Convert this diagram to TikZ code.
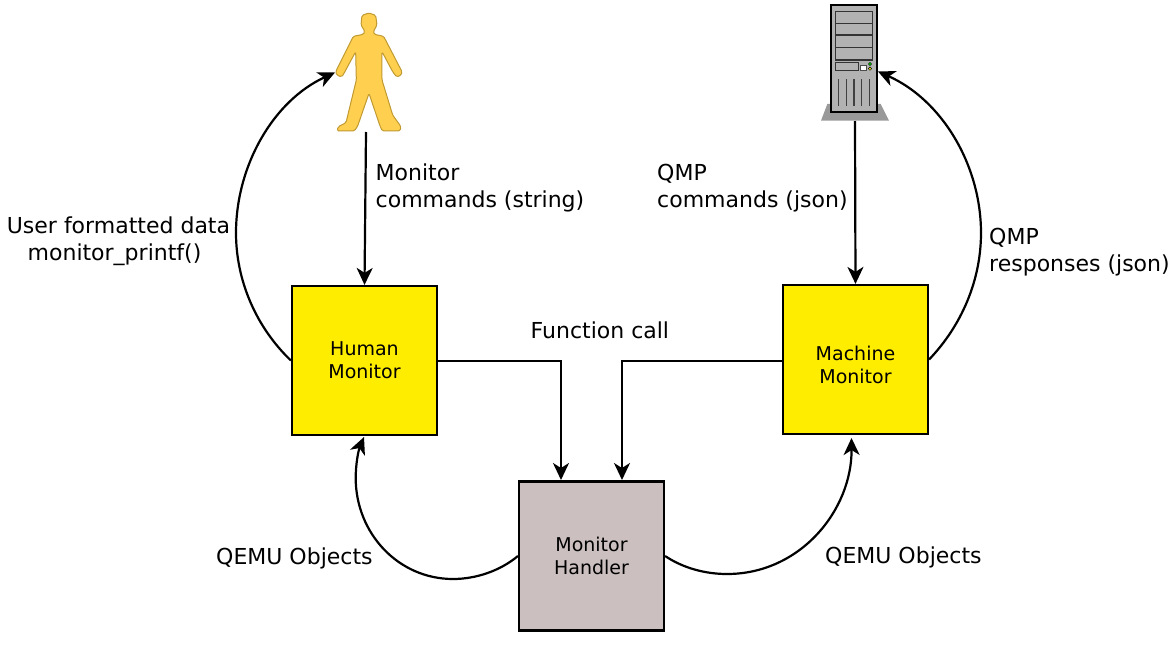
\documentclass[tikz,border=0pt]{standalone}
\usepackage{fontspec}
\setmainfont{DejaVu Sans}
\usetikzlibrary{arrows.meta}
\newcommand{\lowerlabel}[2]{\raisebox{-#1}[\height][\depth]{#2}}
\tikzset{
  x=1pt,y=-1pt,
  boxnode/.style={draw=black,line width=2.2pt,minimum width=145pt,minimum height=149pt,inner sep=0pt,align=center,font=\fontsize{19}{23}\selectfont},
  yellowbox/.style={boxnode,fill=ymon},
  greybox/.style={boxnode,fill=handlerc},
  label/.style={anchor=west,align=left,inner sep=0pt,font=\fontsize{22}{27}\selectfont},
  conn/.style={line width=2.2pt,-{Stealth[length=17pt,width=16pt,inset=5pt]}},
}
\definecolor{ymon}{HTML}{FFED00}
\definecolor{handlerc}{HTML}{CBBFBF}
\definecolor{persc}{HTML}{FFD050}
\definecolor{persl}{HTML}{C09A30}
\begin{document}
\begin{tikzpicture}
\useasboundingbox (0,0) rectangle (1171,648);
% person
\begin{scope}[shift={(320,0)},x=0.3333pt,y=-0.3333pt]
\draw[fill=persc,draw=persl,line width=1pt,line join=round,rounded corners=1.5pt]
 (123,75)--(126,46)--(147,39)--(167,46)--(171,75)--(160,95)--(163,103)--(191,109)--(246,215)--(244,225)--(230,231)--(218,215)--(186,155)--(186,240)--(218,345)--(243,380)--(240,393)--(187,393)--(180,378)--(147,280)--(113,378)--(103,393)--(51,393)--(55,380)--(78,368)--(109,240)--(107,155)--(72,220)--(65,231)--(50,225)--(47,215)--(100,109)--(130,103)--(135,95)--cycle;
\end{scope}
% server
\begin{scope}[shift={(810,0)},x=0.3333pt,y=-0.3333pt]
\fill[fill=black!40] (52,312)--(212,312)--(237,362)--(33,362)--cycle;
\draw[fill=black!30,draw=black,line width=2.2pt] (62,14) rectangle (202,335);
\draw[draw=black!80,line width=1.3pt] (76,34) rectangle (188,180);
\draw[draw=black!80,line width=1.3pt] (76,70)--(188,70) (76,105)--(188,105) (76,142)--(188,142);
\draw[draw=black!80,line width=1.3pt] (76,187) rectangle (146,212);
\draw[fill=white,draw=black!70,line width=0.7pt] (151,197) rectangle (170,212);
\draw[fill=green!80!black,draw=black,line width=0.4pt] (180,192) circle (5);
\draw[fill=yellow!90!black,draw=black,line width=0.4pt] (180,206) circle (5);
\draw[draw=black!75,line width=1.2pt] (85,238)--(85,318) (109,238)--(109,318) (132,238)--(132,318) (155,238)--(155,318) (178,238)--(178,318);
\end{scope}
% boxes
\node[yellowbox] (human) at (364.5,360.5) {\lowerlabel{0pt}{Human}\\\lowerlabel{0pt}{Monitor}};
\node[yellowbox] (machine) at (855.5,359.5) {\lowerlabel{5pt}{Machine}\\\lowerlabel{5pt}{Monitor}};
\node[greybox] (handler) at (591.5,556) {Monitor\\Handler};
% free ends
\coordinate (personfoot) at (366,132);
\coordinate (personhand) at (335,72.5);
\coordinate (serverbase) at (855,121);
\coordinate (serverside) at (878,71.5);
\coordinate (handlerinl) at (561,480);
\coordinate (handlerinr) at (622,480);
\coordinate (humanbot) at (364,437);
\coordinate (machinebot) at (851.5,438);
% connectors
\draw[conn] (personfoot) -- (human.north);
\draw[conn] (serverbase) -- (machine.north);
\draw[conn] ([yshift=-0.5pt]human.east) -| (handlerinl);
\draw[conn] ([yshift=-1.5pt]machine.west) -| (handlerinr);
\draw[conn] (human.west) .. controls (256.4,327.5) and (236,281) .. (236,233) .. controls (236,165.4) and (273.5,100.7) .. (personhand);
\draw[conn] (machine.east) .. controls (961.8,325.3) and (981,280) .. (981,233) .. controls (981,164) and (941,99.5) .. (serverside);
\draw[conn] (handler.west) .. controls (500,571) and (475.7,579) .. (453,579) .. controls (398,579) and (355.7,533) .. (355.7,478) .. controls (355.7,464) and (358.4,450.5) .. (humanbot);
\draw[conn] (handler.east) .. controls (683,568) and (705,574) .. (727,574) .. controls (800.4,574) and (852,510) .. (machinebot);
% labels
\node[label] (l1) at (375.5,188) {Monitor\\commands (string)};
\node[label] (l2) at (657,188) {QMP\\commands (json)};
\node[label] (l3) at (989,252) {QMP\\responses (json)};
\node[label,anchor=center,align=center] (l4) at (118.5,241) {User formatted data\\\hspace*{-8pt}monitor\_printf()};
\node[label] (l5) at (530.5,330) {Function call};
\node[label] (l6) at (216,558) {QEMU Objects};
\node[label] (l7) at (825,557) {QEMU Objects};
\end{tikzpicture}
\end{document}
